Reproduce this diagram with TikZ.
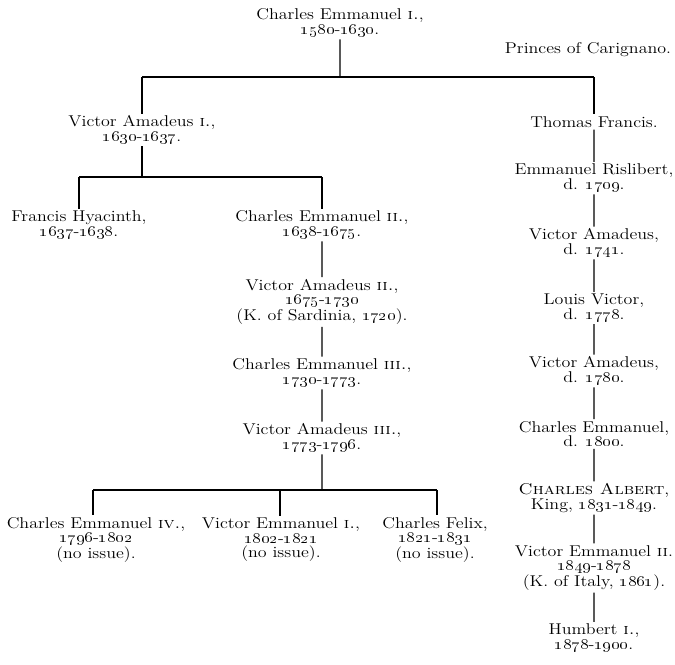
\documentclass[tikz,border=0pt]{standalone}
\usepackage{tikz}
\usetikzlibrary{calc}

\newcommand{\yr}[1]{\oldstylenums{#1}}
\newcommand{\yrs}[2]{\oldstylenums{#1}-\oldstylenums{#2}}

\tikzset{
  person/.style = {align=center, inner sep=1.5pt, xscale=1.15,
    font=\fontsize{12.5}{11.6}\selectfont},
  link/.style = {line width=0.9pt}
}

\begin{document}
\begin{tikzpicture}[x=0.8pt, y=-0.8pt]
\useasboundingbox (0,0) rectangle (675,664);
% main line
\node[person] (ce1) at (340,23) {Charles Emmanuel \textsc{i.},\\ \yrs{1580}{1630}.};
\node[person] (pc) at (588,50) {Princes of Carignano.};
\node[person] (va1) at (142,130) {Victor Amadeus \textsc{i.},\\ \yrs{1630}{1637}.};
\node[person] (fh) at (79,225) {Francis Hyacinth,\\ \yrs{1637}{1638}.};
\node[person] (ce2) at (322,225) {Charles Emmanuel \textsc{ii.},\\ \yrs{1638}{1675}.};
\node[person] (va2) at (322,302) {Victor Amadeus \textsc{ii.},\\ \yrs{1675}{1730}\\ (K. of Sardinia, \yr{1720}).};
\node[person] (ce3) at (322,373) {Charles Emmanuel \textsc{iii.},\\ \yrs{1730}{1773}.};
\node[person] (va3) at (322,438) {Victor Amadeus \textsc{iii.},\\ \yrs{1773}{1796}.};
\node[person] (ce4) at (96,540) {Charles Emmanuel \textsc{iv.},\\ \yrs{1796}{1802}\\ (no issue).};
\node[person] (ve1) at (281,540) {Victor Emmanuel \textsc{i.},\\ \yrs{1802}{1821}\\ (no issue).};
\node[person] (cf) at (435,540) {Charles Felix,\\ \yrs{1821}{1831}\\ (no issue).};
% Carignano line
\node[person] (tf) at (594,122) {Thomas Francis.};
\node[person] (er) at (594,178) {Emmanuel Rislibert,\\ d. \yr{1709}.};
\node[person] (vaa) at (594,243) {Victor Amadeus,\\ d. \yr{1741}.};
\node[person] (lv) at (594,308) {Louis Victor,\\ d. \yr{1778}.};
\node[person] (vab) at (594,371) {Victor Amadeus,\\ d. \yr{1780}.};
\node[person] (ce) at (594,434) {Charles Emmanuel,\\ d. \yr{1800}.};
\node[person] (ca) at (594,498) {\textsc{Charles Albert},\\ King, \yrs{1831}{1849}.};
\node[person] (ve2) at (594,568) {Victor Emmanuel \textsc{ii}.\\ \yrs{1849}{1878}\\ (K. of Italy, \yr{1861}).};
\node[person] (hu) at (594,638) {Humbert \textsc{i.},\\ \yrs{1878}{1900}.};

\coordinate (b1l) at (142,77);
\coordinate (b1r) at (594,77);
\coordinate (b2l) at (79,177);
\coordinate (b2r) at (322,177);
\coordinate (b3l) at (93,490);
\coordinate (b3m) at (280,490);
\coordinate (b3r) at (437,490);

\draw[link] (ce1) -- (ce1 |- b1l);
\draw[link] (b1l) -- (b1r);
\draw[link] (b1l) -- (b1l |- va1.north);
\draw[link] (b1r) -- (b1r |- tf.north);
\draw[link] (va1.south) -- (va1.south |- b2l);
\draw[link] (b2l) -- (b2r);
\draw[link] (b2l) -- (b2l |- fh.north);
\draw[link] (b2r) -- (b2r |- ce2.north);
\draw[link] (ce2) -- (va2);
\draw[link] (va2) -- (ce3);
\draw[link] (ce3) -- (va3);
\draw[link] (va3) -- (va3 |- b3l);
\draw[link] (b3l) -- (b3r);
\draw[link] (b3l) -- (b3l |- ce4.north);
\draw[link] (b3m) -- (b3m |- ve1.north);
\draw[link] (b3r) -- (b3r |- cf.north);
\draw[link] (tf) -- (er);
\draw[link] (er) -- (vaa);
\draw[link] (vaa) -- (lv);
\draw[link] (lv) -- (vab);
\draw[link] (vab) -- (ce);
\draw[link] (ce) -- (ca);
\draw[link] (ca) -- (ve2);
\draw[link] (ve2) -- (hu);
\end{tikzpicture}
\end{document}
